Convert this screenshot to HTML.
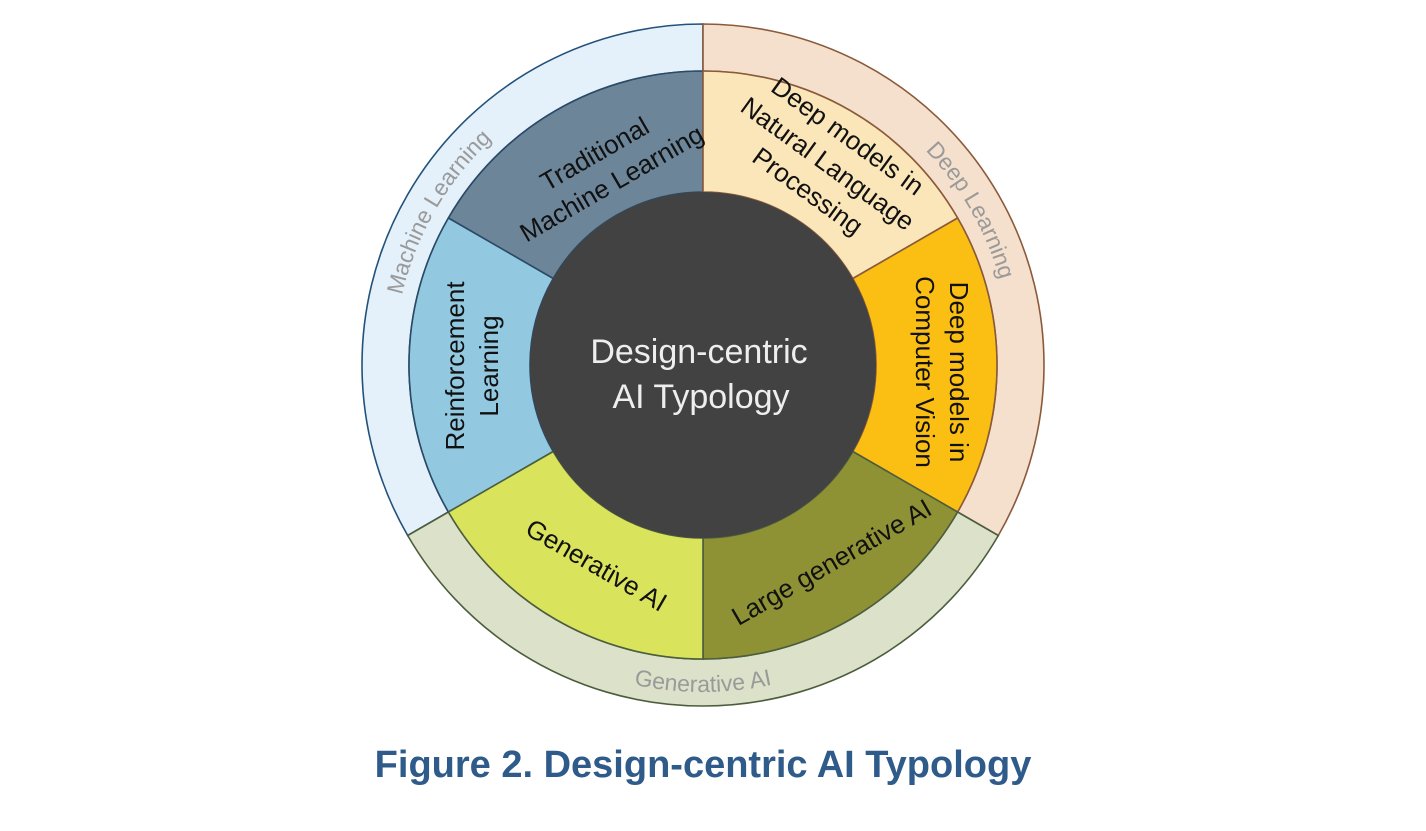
<!DOCTYPE html>
<html><head><meta charset="utf-8"><style>
html,body{margin:0;padding:0;background:#fff;width:1426px;height:831px;overflow:hidden}
svg{display:block}
text{font-family:"Liberation Sans",sans-serif}
</style></head><body>
<svg id="s" width="1426" height="831" viewBox="0 0 1426 831" xmlns="http://www.w3.org/2000/svg">
<defs>
<path id="pML" d=""/>
<path id="pDL" d=""/>
<path id="pGA" d=""/>
</defs>
<g id="shapes"></g>
<circle cx="703" cy="365" r="173" fill="#424242"/>
<g font-size="23" fill="#9a9a9a">
<text><textPath href="#pML" startOffset="50%" text-anchor="middle">Machine Learning</textPath></text>
<text><textPath href="#pDL" startOffset="50%" text-anchor="middle">Deep Learning</textPath></text>
<text><textPath href="#pGA" startOffset="50%" text-anchor="middle">Generative AI</textPath></text>
</g>
<g font-size="26" fill="#111" text-anchor="middle">
<g transform="translate(605,172) rotate(-30)"><text x="0" y="-12">Traditional</text><text x="0" y="22">Machine Learning</text></g>
<g transform="translate(826,166) rotate(36)"><text x="0" y="-28">Deep models in</text><text x="0" y="6">Natural Language</text><text x="0" y="40">Processing</text></g>
<g transform="translate(942,372) rotate(90)"><text x="0" y="-8">Deep models in</text><text x="0" y="26">Computer Vision</text></g>
<g transform="translate(832,563) rotate(-30)"><text x="0" y="8">Large generative AI</text></g>
<g transform="translate(596,566) rotate(30)"><text x="0" y="8">Generative AI</text></g>
<g transform="translate(472,366) rotate(-90)"><text x="0" y="-8">Reinforcement</text><text x="0" y="26">Learning</text></g>
</g>
<g font-size="34" fill="#eeeeee" text-anchor="middle">
<text x="699" y="363">Design-centric</text>
<text x="701" y="408">AI Typology</text>
</g>
<text x="703" y="777" text-anchor="middle" font-weight="bold" font-size="38" fill="#2f5b8a">Figure 2. Design-centric AI Typology</text>
</svg>
<script>
var cx=703,cy=365,R1=341,R2=294,R3=173;
function P(r,a){a=a*Math.PI/180;return [(cx+r*Math.cos(a)).toFixed(2),(cy-r*Math.sin(a)).toFixed(2)];}
function sector(r0,r1,a0,a1){
 var p1=P(r1,a0),p2=P(r1,a1),p3=P(r0,a1),p4=P(r0,a0),lg=(a1-a0)>180?1:0;
 return "M"+p1+" A"+r1+","+r1+" 0 "+lg+" 0 "+p2+" L"+p3+" A"+r0+","+r0+" 0 "+lg+" 1 "+p4+"Z";}
var g=document.getElementById("shapes"),h="";
function add(d,f,s){h+='<path d="'+d+'" fill="'+f+'" stroke="'+s+'" stroke-width="1.6"/>';}
add(sector(R2,R1,90,210),"#e4f0fa","#22527c");
add(sector(R2,R1,-30,90),"#f4e0cc","#8a5a3a");
add(sector(R2,R1,210,330),"#dce1c9","#4b5d3c");
add(sector(R3,R2,90,150),"#6d8599","#2a4a66");
add(sector(R3,R2,150,210),"#92c9e1","#2a4a66");
add(sector(R3,R2,30,90),"#fae6b9","#8a5a3a");
add(sector(R3,R2,-30,30),"#fbbf14","#8a5a3a");
add(sector(R3,R2,270,330),"#8e9235","#4b5d3c");
add(sector(R3,R2,210,270),"#d9e35c","#4b5d3c");
g.innerHTML=h;
function arcCW(r,a0,a1){var p=P(r,a0),q=P(r,a1);return "M"+p+" A"+r+","+r+" 0 0 1 "+q;}
function arcCCW(r,a0,a1){var p=P(r,a0),q=P(r,a1);return "M"+p+" A"+r+","+r+" 0 0 0 "+q;}
document.getElementById("pML").setAttribute("d",arcCW(309,210,90));
document.getElementById("pDL").setAttribute("d",arcCW(309,90,-30));
document.getElementById("pGA").setAttribute("d",arcCCW(327,210,330));
</script>
</body></html>
